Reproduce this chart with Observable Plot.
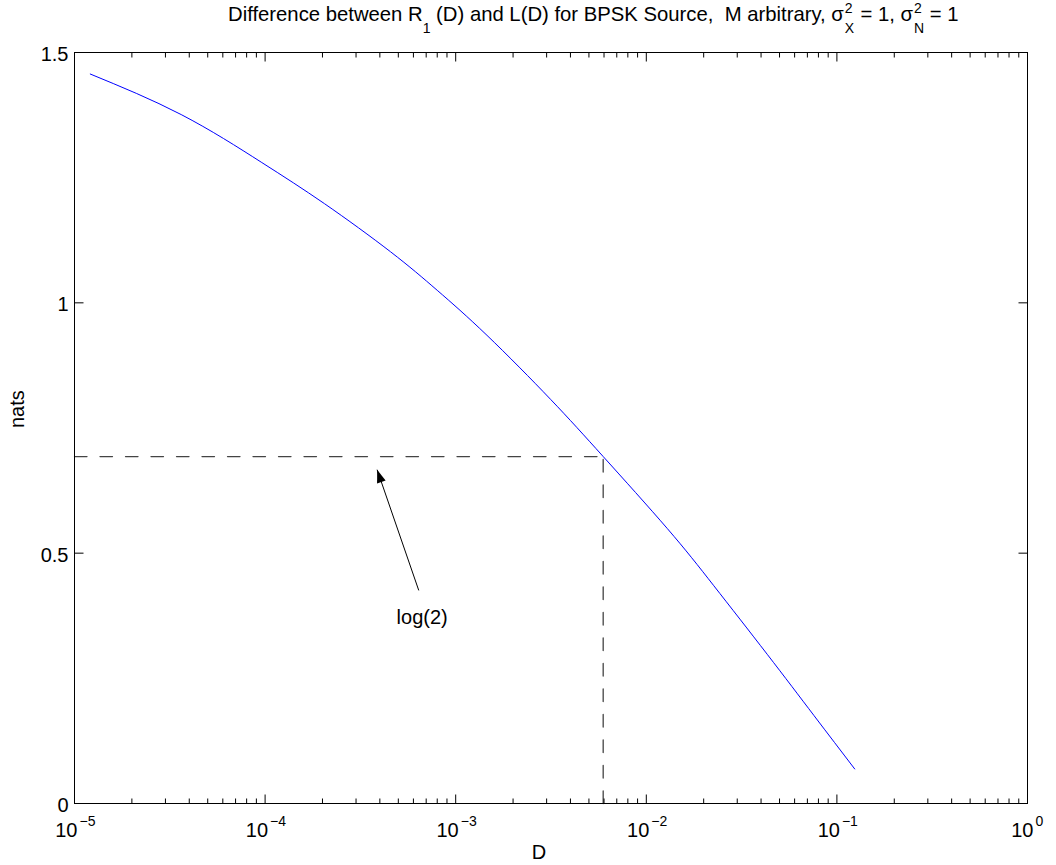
<!DOCTYPE html>
<html>
<head>
<meta charset="utf-8">
<script src="https://cdn.jsdelivr.net/npm/d3@7"></script>
<script src="https://cdn.jsdelivr.net/npm/@observablehq/plot@0.6"></script>
<style>
  body { margin: 0; background: #fff; }
  #wrap { position: relative; width: 1056px; height: 865px; font-family: "Liberation Sans", Arial, sans-serif; color: #000; }
  #title { position: absolute; left: 228px; top: 2px; text-align: left; font-size: 20.3px; line-height: 24px; white-space: pre; z-index: 2; }
  .sub { position: relative; top: 12px; font-size: 14px; }
  .ss { position: relative; display: inline-block; width: 11px; height: 0; }
  .ss span { position: absolute; left: 1px; font-size: 14px; line-height: 14px; }
  .ss .up { top: -20px; }
  .ss .dn { top: 0px; }
  #chart svg { display: block; }
</style>
</head>
<body>
<div id="wrap">
  <div id="title">Difference between R<span class="sub">1</span> (D) and L(D) for BPSK Source,  M arbitrary, σ<span class="ss"><span class="up">2</span><span class="dn">X</span></span> = 1, σ<span class="ss"><span class="up">2</span><span class="dn">N</span></span> = 1</div>
  <div id="chart"></div>
</div>
<script>
// Curve values
const D    = [1.21e-5, 3.63e-5, 9.54e-5, 2.05e-4, 4.55e-4, 8.0e-4, 1.46e-3, 3.15e-3, 5.94e-3, 1.29e-2, 2.26e-2, 4.31e-2, 7.57e-2, 0.124];
const nats = [1.457,   1.376,   1.281,   1.198,   1.102,   1.025,  0.935,   0.807,   0.693,   0.549,   0.435,   0.298,   0.176,   0.069];

// Reference lines
const log2Value = 0.693;
const crossD = 5.94e-3;
const xStart = 1e-5;

// Annotation
const arrowTail = [6.40e-4, 0.4256];
const arrowTip  = [3.87e-4, 0.6667];
const noteAt    = [6.67e-4, 0.372];
const noteText  = "log(2)";

// Ticks
const yTicks = [0, 0.5, 1, 1.5];
const yTickLabels = ["0", "0.5", "1", "1.5"];
const xDecadesNeg = [1e-5, 1e-4, 1e-3, 1e-2, 1e-1];
const xExponentsNeg = ["\u22125", "\u22124", "\u22123", "\u22122", "\u22121"];
const xDecadeZero = [1];
const xExponentZero = ["0"];
const xDecades = [...xDecadesNeg, ...xDecadeZero];
const minorMultipliers = [2, 3, 4, 5, 6, 7, 8, 9];
const xMinor = xDecadesNeg.flatMap(d => minorMultipliers.map(k => k * d));

const curve = D.map((d, i) => ({D: d, nats: nats[i]}));
const hLine = [{x: xStart, y: log2Value}, {x: crossD, y: log2Value}];
const vLine = [{x: crossD, y: 0}, {x: crossD, y: log2Value}];

const headShape = {
  draw(ctx) {
    ctx.moveTo(0, 0);
    ctx.lineTo(4.5, 13);
    ctx.lineTo(-4.5, 13);
    ctx.closePath();
  }
};
const tickShape = {
  draw(ctx, l) {
    ctx.moveTo(0, 0);
    ctx.lineTo(0, -l);
  }
};

const FS = 20;
const EXP_FS = 14;
const tickStyle = {anchor: "start", stroke: "#000", strokeWidth: 1, strokeLinecap: "butt", shape: tickShape};

const plot = Plot.plot({
  width: 1056,
  height: 865,
  marginLeft: 74,
  marginRight: 29,
  marginTop: 52,
  marginBottom: 62,
  style: {fontFamily: '"Liberation Sans", Arial, sans-serif', background: "#fff", color: "#000", overflow: "visible"},
  x: {type: "log", domain: [1e-5, 1], axis: null},
  y: {domain: [0, 1.5], axis: null},
  marks: [
    // dashed guide lines
    Plot.line(hLine, {x: "x", y: "y", stroke: "#444", strokeWidth: 1.3, strokeDasharray: "12.5,13"}),
    Plot.line(vLine, {x: "x", y: "y", stroke: "#444", strokeWidth: 1.3, strokeDasharray: "12.5,13"}),
    // curve
    Plot.line(curve, {x: "D", y: "nats", stroke: "#0000ff", strokeWidth: 1, curve: "natural"}),
    // arrow
    Plot.link([0], {x1: () => arrowTail[0], y1: () => arrowTail[1], x2: () => arrowTip[0], y2: () => arrowTip[1], stroke: "#000", strokeWidth: 1}),
    Plot.dot([0], {x: () => arrowTip[0], y: () => arrowTip[1], symbol: headShape, fill: "#000", stroke: "none", rotate: -19}),
    Plot.text([noteText], {x: () => noteAt[0], y: () => noteAt[1], text: d => d, fontSize: FS, textAnchor: "middle", lineAnchor: "middle"}),
    // frame
    Plot.frame({stroke: "#000", strokeWidth: 1}),
    // y ticks (inward, left and right)
    Plot.vector(yTicks, {y: d => d, frameAnchor: "left", rotate: 90, length: 9, ...tickStyle}),
    Plot.vector(yTicks, {y: d => d, frameAnchor: "right", rotate: -90, length: 9, ...tickStyle}),
    // x major ticks (bottom and top)
    Plot.vector(xDecades, {x: d => d, frameAnchor: "bottom", rotate: 0, length: 9, ...tickStyle}),
    Plot.vector(xDecades, {x: d => d, frameAnchor: "top", rotate: 180, length: 9, ...tickStyle}),
    // x minor ticks
    Plot.vector(xMinor, {x: d => d, frameAnchor: "bottom", rotate: 0, length: 5, ...tickStyle}),
    Plot.vector(xMinor, {x: d => d, frameAnchor: "top", rotate: 180, length: 5, ...tickStyle}),
    // y tick labels
    Plot.text(yTicks, {y: d => d, text: (d, i) => yTickLabels[i], frameAnchor: "left", dx: -6, dy: 2, textAnchor: "end", lineAnchor: "middle", fontSize: FS}),
    // x tick labels: "10" + exponent, whole label centred on the tick
    Plot.text(xDecadesNeg, {x: d => d, text: () => "10", frameAnchor: "bottom", dy: 33, dx: 3, textAnchor: "end", lineAnchor: "bottom", fontSize: FS}),
    Plot.text(xDecadesNeg, {x: d => d, text: (d, i) => xExponentsNeg[i], frameAnchor: "bottom", dy: 22, dx: 5, textAnchor: "start", lineAnchor: "bottom", fontSize: EXP_FS}),
    Plot.text(xDecadeZero, {x: d => d, text: () => "10", frameAnchor: "bottom", dy: 33, dx: 6, textAnchor: "end", lineAnchor: "bottom", fontSize: FS}),
    Plot.text(xDecadeZero, {x: d => d, text: (d, i) => xExponentZero[i], frameAnchor: "bottom", dy: 22, dx: 8, textAnchor: "start", lineAnchor: "bottom", fontSize: EXP_FS}),
    // axis labels
    Plot.text(["D"], {frameAnchor: "bottom", dx: -12, dy: 55, lineAnchor: "bottom", fontSize: FS}),
    Plot.text(["nats"], {frameAnchor: "left", dx: -57, rotate: -90, lineAnchor: "middle", fontSize: FS})
  ]
});

document.getElementById("chart").appendChild(plot);
</script>
</body>
</html>
